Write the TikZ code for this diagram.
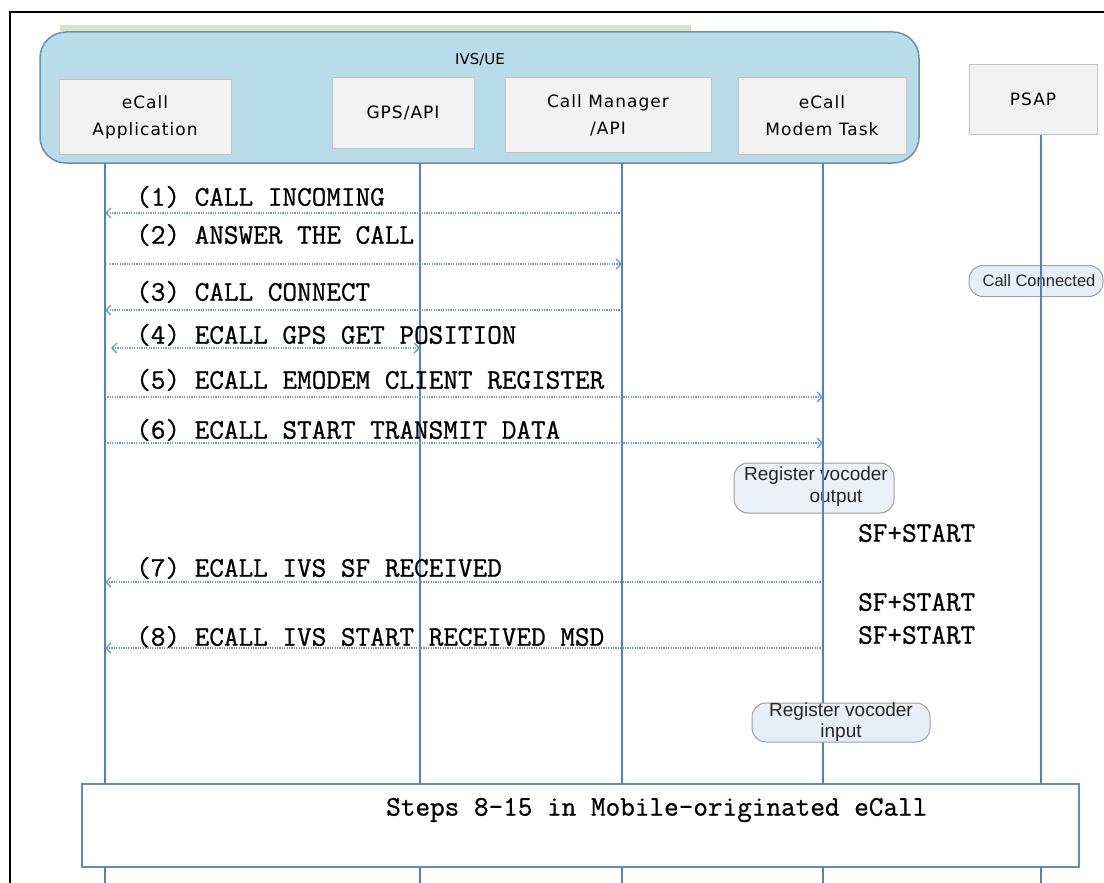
\documentclass[tikz,border=0pt]{standalone}
\usepackage{fontspec}
\setmainfont{DejaVu Sans}
\newfontfamily\monofont[FakeBold=0.8]{Latin Modern Mono}
\newfontfamily\boxfont[LetterSpace=6]{DejaVu Sans}
\newfontfamily\pillfont{Liberation Sans}
\usetikzlibrary{arrows.meta, positioning, calc}

\definecolor{ivsfill}{HTML}{B8DDE8}
\definecolor{ivsline}{HTML}{6C8EB4}
\definecolor{barfill}{HTML}{DCE4BE}
\definecolor{boxfill}{HTML}{F2F2F2}
\definecolor{boxline}{HTML}{C4C4C4}
\definecolor{lifeblue}{HTML}{4F81C4}
\definecolor{msgblue}{HTML}{6E9AD6}
\definecolor{pillfill}{HTML}{E6EEF8}
\definecolor{pillline}{HTML}{A0A0A0}

\begin{document}
\begin{tikzpicture}[
		x=1pt, y=-1pt,
		every node/.style={inner sep=0pt},
		unit/.style={draw=boxline, fill=boxfill, line width=1pt, align=center, font=\boxfont\fontsize{17}{27}\selectfont},
		pill/.style={draw=pillline, fill=pillfill, line width=1pt, rounded corners=14pt},
		pilltext/.style={font=\pillfont\fontsize{16.5}{20}\selectfont, text=black!85},
		vocoder/.style={font=\pillfont\fontsize{19}{22}\selectfont, text=black!85, align=center},
		life/.style={draw=lifeblue, line width=1.4pt},
		msg/.style={draw=msgblue, line width=1.3pt, dash pattern=on 1.2pt off 1.2pt, -{Straight Barb[length=5pt,width=10pt]}},
		lbl/.style={anchor=west, font=\monofont\fontsize{28.4}{30}\selectfont}
		]
		\useasboundingbox (0,0) rectangle (1104,883);
		% frame
		\draw[line width=2pt] (10,883) -- (10,12) -- (1104,12);
		\fill[barfill] (60,25) rectangle (691,31);
		\draw[ivsline, fill=ivsfill, line width=1.5pt, rounded corners=26pt] (40,32) rectangle (919,163);
		\node[font=\fontsize{15}{18}\selectfont] (ivs) at (480,60) {IVS/UE};
		% entities
		\node[unit, minimum width=172pt, minimum height=74pt] (app) at (145,117) {eCall\\Application};
		\node[unit, minimum width=142pt, minimum height=70pt] (gps) at (403,113) {GPS/API};
		\node[unit, minimum width=206pt, minimum height=74pt] (cm) at (608,115) {Call Manager\\/API};
		\node[unit, minimum width=168pt, minimum height=76pt] (modem) at (822,116) {eCall\\Modem Task};
		\node[unit, minimum width=128pt, minimum height=69pt] (psap) at (1033,99.5) {PSAP};
		% lifeline ends
		\coordinate (appT) at (105,163);   \coordinate (appB) at (105,883);
		\coordinate (gpsT) at (420,163);   \coordinate (gpsB) at (420,883);
		\coordinate (cmT) at (622,163);    \coordinate (cmB) at (622,883);
		\coordinate (modemT) at (823,163); \coordinate (modemB) at (823,883);
		\coordinate (psapT) at (psap.south -| 1041,0); \coordinate (psapB) at (1041,883);
		% notes under the lifelines
		\node[pill, minimum width=160pt, minimum height=50pt, fill opacity=0.8] (outpill) at (814,488) {};
		\node[vocoder] (outtxt) at (816,487) {Register vocoder\\\hspace*{40pt}output};
		\node[pill, minimum width=134pt, minimum height=31pt] (ccpill) at (1036,281) {};
		\node[pilltext] (cctxt) at (1039,281) {Call Connected};
		% lifelines
		\draw[life] (appT) -- (appB);
		\draw[life] (gpsT) -- (gpsB);
		\draw[life] (cmT) -- (cmB);
		\draw[life] (modemT) -- (modemB);
		\draw[life] (psapT) -- (psapB);
		\node[pill, minimum width=178pt, minimum height=39pt, vocoder, font=\pillfont\fontsize{19}{21}\selectfont] (inpill) at (841,722.5) {Register vocoder\\input};
		% messages
		\node[lbl] (t1) at (136,197) {(1) CALL INCOMING};
		\draw[msg] (cmT |- 0,213) -- (appT |- 0,213);
		\node[lbl] (t2) at (136,235) {(2) ANSWER THE CALL};
		\draw[msg] ($(appT |- 0,264)+(5,0)$) -- (cmT |- 0,264);
		\node[lbl] (t3) at (136,292) {(3) CALL CONNECT};
		\draw[msg] (cmT |- 0,310) -- (appT |- 0,310);
		\node[lbl] (t4) at (136,335) {(4) ECALL GPS GET POSITION};
		\draw[msg, {Straight Barb[length=5pt,width=10pt]}-{Straight Barb[length=5pt,width=10pt]}] ($(appT |- 0,348)+(6,0)$) -- (gpsT |- 0,348);
		\node[lbl] (t5) at (136,380) {(5) ECALL EMODEM CLIENT REGISTER};
		\draw[msg] (appT |- 0,397) -- (modemT |- 0,397);
		\node[lbl] (t6) at (136,430) {(6) ECALL START TRANSMIT DATA};
		\draw[msg] (appT |- 0,443) -- (modemT |- 0,443);
		\node[lbl] (sf1) at (858,533) {SF+START};
		\node[lbl] (t7) at (136,568) {(7) ECALL IVS SF RECEIVED};
		\draw[msg] (modemT |- 0,582) -- (appT |- 0,582);
		\node[lbl] (sf2) at (858,602) {SF+START};
		\node[lbl] (t8) at (136,637) {(8) ECALL IVS START RECEIVED MSD};
		\node[lbl] (sf3) at (858,635) {SF+START};
		\draw[msg] (modemT |- 0,648) -- (appT |- 0,648);
		% reference to the rest of the flow
		\draw[draw=msgblue!90!black, fill=white, line width=1.5pt] (82,784) rectangle (1079,867);
		\node[lbl] (steps) at (386,810) {Steps 8-15 in Mobile-originated eCall};
\end{tikzpicture}
\end{document}
